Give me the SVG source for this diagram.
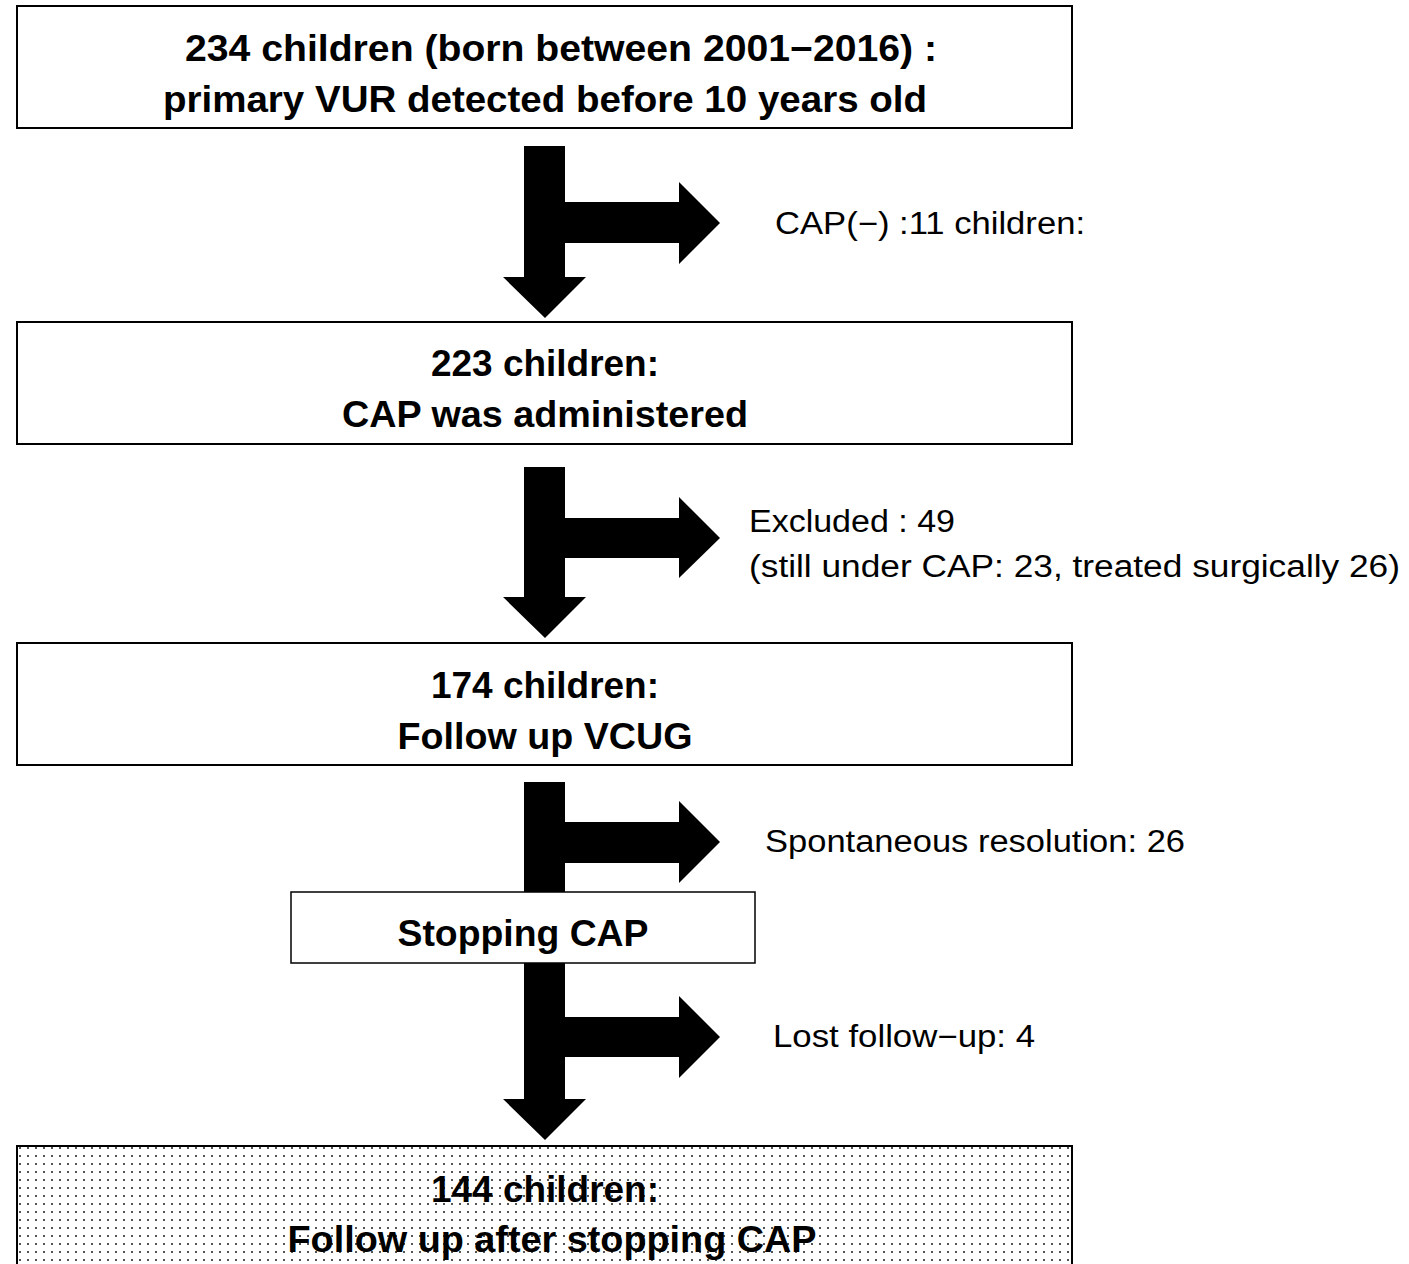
<svg xmlns="http://www.w3.org/2000/svg" width="1409" height="1264" viewBox="0 0 1409 1264">
<style>
.box{fill:#fff;stroke:#000;stroke-width:2}
.arrow{fill:#000;stroke:none}
.bt{font-family:"Liberation Sans",Arial,sans-serif;font-weight:bold;font-size:37px;fill:#000;text-anchor:middle}
.rt{font-family:"Liberation Sans",Arial,sans-serif;font-size:31px;fill:#000}
</style>
<defs>
<pattern id="dots" x="0" y="0" width="8" height="8" patternUnits="userSpaceOnUse">
<rect width="8" height="8" fill="#fff"/>
<rect x="3" y="3" width="2" height="2" fill="#555"/>
</pattern>
</defs>
<rect width="1409" height="1264" fill="#fff"/>
<g id="connectors">
<polygon class="arrow" points="524,146 565,146 565,202 679,202 679,182 720,223 679,264 679,243 565,243 565,277 586,277 545,318 503,277 524,277"/>
<polygon class="arrow" points="524,467 565,467 565,518 679,518 679,497 720,538 679,578 679,558 565,558 565,597 586,597 545,638 503,597 524,597"/>
<polygon class="arrow" points="524,782 565,782 565,822 679,822 679,801 720,842 679,883 679,863 565,863 565,900 524,900"/>
<polygon class="arrow" points="524,955 565,955 565,1017 679,1017 679,996 720,1037 679,1078 679,1057 565,1057 565,1099 586,1099 545,1140 503,1099 524,1099"/>
</g>
<g id="node1">
<rect class="box" x="17" y="6" width="1055" height="122"/>
<text class="bt" x="561" y="61" textLength="752" lengthAdjust="spacingAndGlyphs">234 children (born between 2001−2016) :</text>
<text class="bt" x="545" y="112" textLength="764" lengthAdjust="spacingAndGlyphs">primary VUR detected before 10 years old</text>
</g>
<g id="label1">
<text class="rt" x="775" y="234" textLength="310" lengthAdjust="spacingAndGlyphs">CAP(−) :11 children:</text>
</g>
<g id="node2">
<rect class="box" x="17" y="322" width="1055" height="122"/>
<text class="bt" x="545" y="376" textLength="228" lengthAdjust="spacingAndGlyphs">223 children:</text>
<text class="bt" x="545" y="427" textLength="406" lengthAdjust="spacingAndGlyphs">CAP was administered</text>
</g>
<g id="label2">
<text class="rt" x="749" y="532" textLength="206" lengthAdjust="spacingAndGlyphs">Excluded : 49</text>
<text class="rt" x="749" y="577" textLength="651" lengthAdjust="spacingAndGlyphs">(still under CAP: 23, treated surgically 26)</text>
</g>
<g id="node3">
<rect class="box" x="17" y="643" width="1055" height="122"/>
<text class="bt" x="545" y="698" textLength="228" lengthAdjust="spacingAndGlyphs">174 children:</text>
<text class="bt" x="545" y="749" textLength="295" lengthAdjust="spacingAndGlyphs">Follow up VCUG</text>
</g>
<g id="label3">
<text class="rt" x="765" y="852" textLength="420" lengthAdjust="spacingAndGlyphs">Spontaneous resolution: 26</text>
</g>
<g id="node4">
<rect class="box" x="291" y="892" width="464" height="71" style="stroke-width:1.5"/>
<text class="bt" x="523" y="946" textLength="251" lengthAdjust="spacingAndGlyphs">Stopping CAP</text>
</g>
<g id="label4">
<text class="rt" x="773" y="1047" textLength="262" lengthAdjust="spacingAndGlyphs">Lost follow−up: 4</text>
</g>
<g id="node5">
<rect x="17" y="1146" width="1055" height="130" fill="url(#dots)" stroke="#000" stroke-width="2"/>
<text class="bt" x="545" y="1202" textLength="228" lengthAdjust="spacingAndGlyphs">144 children:</text>
<text class="bt" x="552" y="1252" textLength="529" lengthAdjust="spacingAndGlyphs">Follow up after stopping CAP</text>
</g>
</svg>
